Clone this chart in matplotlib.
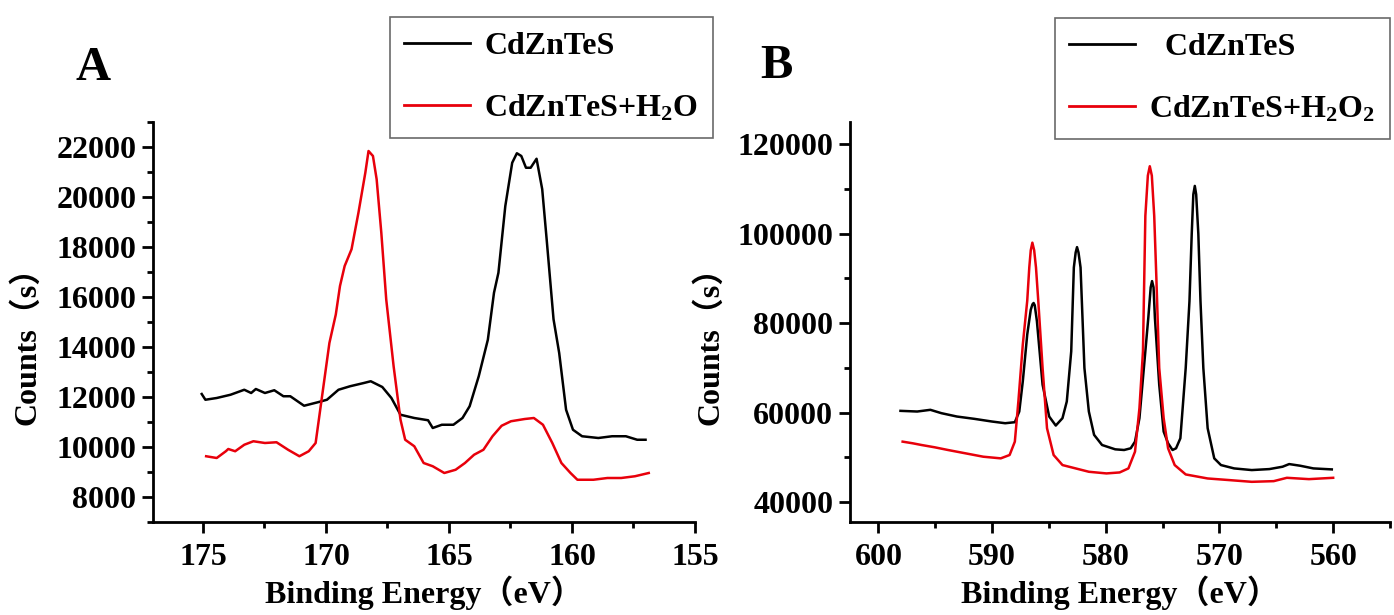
import matplotlib
matplotlib.use("Agg")
import matplotlib.pyplot as plt
from matplotlib.ticker import MultipleLocator

# ---------------- data ----------------
# Panel A (S 2p region)
a_black_x = [175.05, 174.9, 174.44, 173.88, 173.32, 173.04, 172.85, 172.48, 172.1, 171.73,
             171.45, 170.89, 170.33, 169.96, 169.49, 169.02, 168.46, 168.18, 167.71, 167.34,
             166.97, 166.41, 165.85, 165.66, 165.29, 164.82, 164.45, 164.16, 163.79, 163.42,
             163.17, 162.99, 162.71, 162.43, 162.24, 162.06, 161.87, 161.68, 161.44, 161.21,
             161.03, 160.75, 160.52, 160.24, 159.96, 159.59, 158.93, 158.37, 157.81, 157.35,
             157.01]
a_black_y = [12120, 11890, 11960, 12090, 12290, 12160, 12320, 12160, 12270, 12030,
             12030, 11650, 11790, 11890, 12290, 12430, 12560, 12630, 12400, 11960,
             11290, 11160, 11070, 10760, 10890, 10890, 11160, 11630, 12830, 14290,
             16170, 16970, 19640, 21370, 21750, 21640, 21170, 21170, 21530, 20310,
             18310, 15110, 13760, 11490, 10690, 10430, 10360, 10430, 10430, 10290,
             10290]

a_red_x = [174.87, 174.44, 174.07, 173.97, 173.69, 173.32, 172.95, 172.48, 172.01, 171.54,
           171.08, 170.7, 170.42, 170.14, 169.86, 169.6, 169.43, 169.24, 168.96, 168.68,
           168.4, 168.27, 168.09, 167.94, 167.75, 167.55, 167.25, 166.97, 166.78, 166.41,
           166.03, 165.66, 165.19, 164.73, 164.35, 163.98, 163.6, 163.23, 162.86, 162.48,
           161.92, 161.55, 161.18, 160.8, 160.43, 160.06, 159.78, 159.13, 158.56, 158.0,
           157.44, 156.88]
a_red_y = [9630, 9560, 9830, 9920, 9830, 10090, 10230, 10160, 10190, 9890,
           9630, 9830, 10160, 12160, 14160, 15300, 16440, 17240, 17910, 19370,
           20970, 21840, 21640, 20710, 18570, 15900, 13230, 11090, 10290, 10030,
           9360, 9230, 8960, 9090, 9360, 9690, 9890, 10430, 10850, 11030,
           11120, 11160, 10890, 10160, 9360, 8960, 8690, 8690, 8760, 8760,
           8830, 8960]

# Panel B (Cd 3d region)
b_black_x = [598.06, 596.59, 595.43, 594.46, 593.1, 591.56, 590.01, 588.85, 588.0, 587.61,
             587.3, 586.91, 586.6, 586.45, 586.35, 586.25, 586.06, 585.56, 584.98, 584.4,
             583.81, 583.43, 583.04, 582.81, 582.65, 582.53, 582.4, 582.22, 581.88, 581.49,
             581.03, 580.33, 579.17, 578.39, 577.81, 577.43, 577.04, 576.65, 576.26, 576.05,
             575.93, 575.8, 575.68, 575.3, 574.91, 574.52, 574.13, 573.82, 573.44, 572.97,
             572.64, 572.44, 572.3, 572.17, 572.05, 571.86, 571.67, 571.42, 571.04, 570.46,
             569.87, 568.71, 567.16, 565.61, 564.45, 563.87, 562.9, 561.74, 560.12]
b_black_y = [60370, 60220, 60600, 59850, 59100, 58580, 57980, 57600, 57830, 60220,
             66970, 77450, 83000, 84200, 84500, 84000, 80450, 66220, 59100, 57080,
             58730, 62470, 73700, 92450, 95800, 97000, 95800, 92450, 69960, 60220,
             55000, 52730, 51760, 51610, 51990, 53480, 58730, 69960, 81200, 88000,
             89400, 88000, 81200, 66220, 55730, 53110, 51610, 51990, 54230, 69960,
             84900, 100000, 108800, 110700, 108800, 100000, 84900, 69960, 56480, 49740,
             48240, 47490, 47120, 47340, 47870, 48460, 48090, 47490, 47270]

b_red_x = [597.87, 596.98, 596.21, 595.04, 593.88, 592.33, 590.78, 589.24, 588.46, 588.0,
           587.69, 587.3, 586.91, 586.73, 586.6, 586.46, 586.3, 586.14, 585.94, 585.56,
           585.17, 584.59, 583.81, 582.65, 581.49, 579.94, 578.78, 578.01, 577.43, 577.04,
           576.73, 576.52, 576.3, 576.13, 575.95, 575.74, 575.55, 575.3, 574.91, 574.52,
           573.94, 572.97, 571.04, 569.1, 567.16, 565.23, 564.07, 562.13, 560.0]
b_red_y = [53480, 53110, 52730, 52210, 51610, 50860, 50110, 49740, 50490, 53480,
           62470, 75210, 85000, 92450, 96300, 98000, 96300, 92450, 85000, 69960,
           56480, 50490, 48240, 47490, 46740, 46370, 46590, 47490, 51240, 60970,
           73700, 104000, 113000, 115100, 113000, 104000, 90000, 69960, 58730, 51990,
           48240, 46140, 45240, 44870, 44490, 44640, 45390, 45090, 45390]

a_xticks = [175, 170, 165, 160, 155]
a_yticks = [8000, 10000, 12000, 14000, 16000, 18000, 20000, 22000]
b_xticks = [600, 590, 580, 570, 560]
b_yticks = [40000, 60000, 80000, 100000, 120000]

label_black = "CdZnTeS"
label_red_a = r"CdZnTeS+H$_\mathrm{2}$O"
label_red_b = r"CdZnTeS+H$_\mathrm{2}$O$_\mathrm{2}$"
xlabel = "Binding Energy（eV）"
ylabel = "Counts（s）"

# ---------------- style ----------------
plt.rcParams['font.family'] = ['Liberation Serif', 'Noto Sans CJK SC']
plt.rcParams['font.weight'] = 'bold'
plt.rcParams['mathtext.fontset'] = 'custom'
plt.rcParams['mathtext.rm'] = 'Liberation Serif:bold'
plt.rcParams['mathtext.it'] = 'Liberation Serif:bold'
plt.rcParams['mathtext.bf'] = 'Liberation Serif:bold'

FS = 23
W, H = 1394, 615
fig = plt.figure(figsize=(W / 100, H / 100), dpi=100)

def fx(px):
    return px / W

def fy(py):
    return 1 - py / H

axA = fig.add_axes([fx(153), fy(522), fx(695) - fx(153), fy(122) - fy(522)])
axB = fig.add_axes([fx(850), fy(522), fx(1390) - fx(850), fy(122) - fy(522)])

def style(ax, xlim, ylim, xt, yt, xminor, yminor):
    ax.set_xlim(*xlim)
    ax.set_ylim(*ylim)
    ax.set_xticks(xt)
    ax.set_yticks(yt)
    ax.xaxis.set_minor_locator(MultipleLocator(xminor))
    ax.yaxis.set_minor_locator(MultipleLocator(yminor))
    for s in ['top', 'right']:
        ax.spines[s].set_visible(False)
    for s in ['left', 'bottom']:
        ax.spines[s].set_linewidth(2.0)
    ax.tick_params(which='major', direction='out', length=8, width=2.0,
                   labelsize=FS, pad=4)
    ax.tick_params(axis='x', which='major', pad=7)
    ax.tick_params(which='minor', direction='out', length=4.5, width=2.0)
    for lab in ax.get_xticklabels() + ax.get_yticklabels():
        lab.set_fontweight('bold')
    ax.set_xlabel(xlabel, fontsize=FS, fontweight='bold', labelpad=3)
    ax.set_ylabel(ylabel, fontsize=FS, fontweight='bold')

axA.plot(a_black_x, a_black_y, color='black', lw=1.8, label=label_black)
axA.plot(a_red_x, a_red_y, color='#e8000b', lw=1.8, label=label_red_a)
style(axA, (177.03, 155), (7000, 23000), a_xticks, a_yticks, 2.5, 1000)
axA.yaxis.set_label_coords(-0.205, 0.46)

axB.plot(b_black_x, b_black_y, color='black', lw=1.8, label="  " + label_black)
axB.plot(b_red_x, b_red_y, color='#e8000b', lw=1.8, label=label_red_b)
style(axB, (602.5, 555), (35500, 125000), b_xticks, b_yticks, 5, 10000)
axB.yaxis.set_label_coords(-0.23, 0.46)

for ax, x0, y0 in [(axA, 390, 17), (axB, 1055, 18)]:
    leg = ax.legend(loc='upper left', bbox_to_anchor=(fx(x0), fy(y0)),
                    bbox_transform=fig.transFigure, borderaxespad=0,
                    fancybox=False, frameon=True, prop={'size': FS, 'weight': 'bold'},
                    handlelength=2.05, handletextpad=0.45, labelspacing=1.0,
                    borderpad=0.45)
    leg.get_frame().set_edgecolor('#444444')
    leg.get_frame().set_linewidth(1.2)
    for l in leg.get_lines():
        l.set_linewidth(2.0)

fig.text(fx(93), fy(80), "A", fontsize=35, fontweight='bold', ha='center', va='baseline')
fig.text(fx(776), fy(78), "B", fontsize=35, fontweight='bold', ha='center', va='baseline')

fig.savefig("out.png", dpi=100)
